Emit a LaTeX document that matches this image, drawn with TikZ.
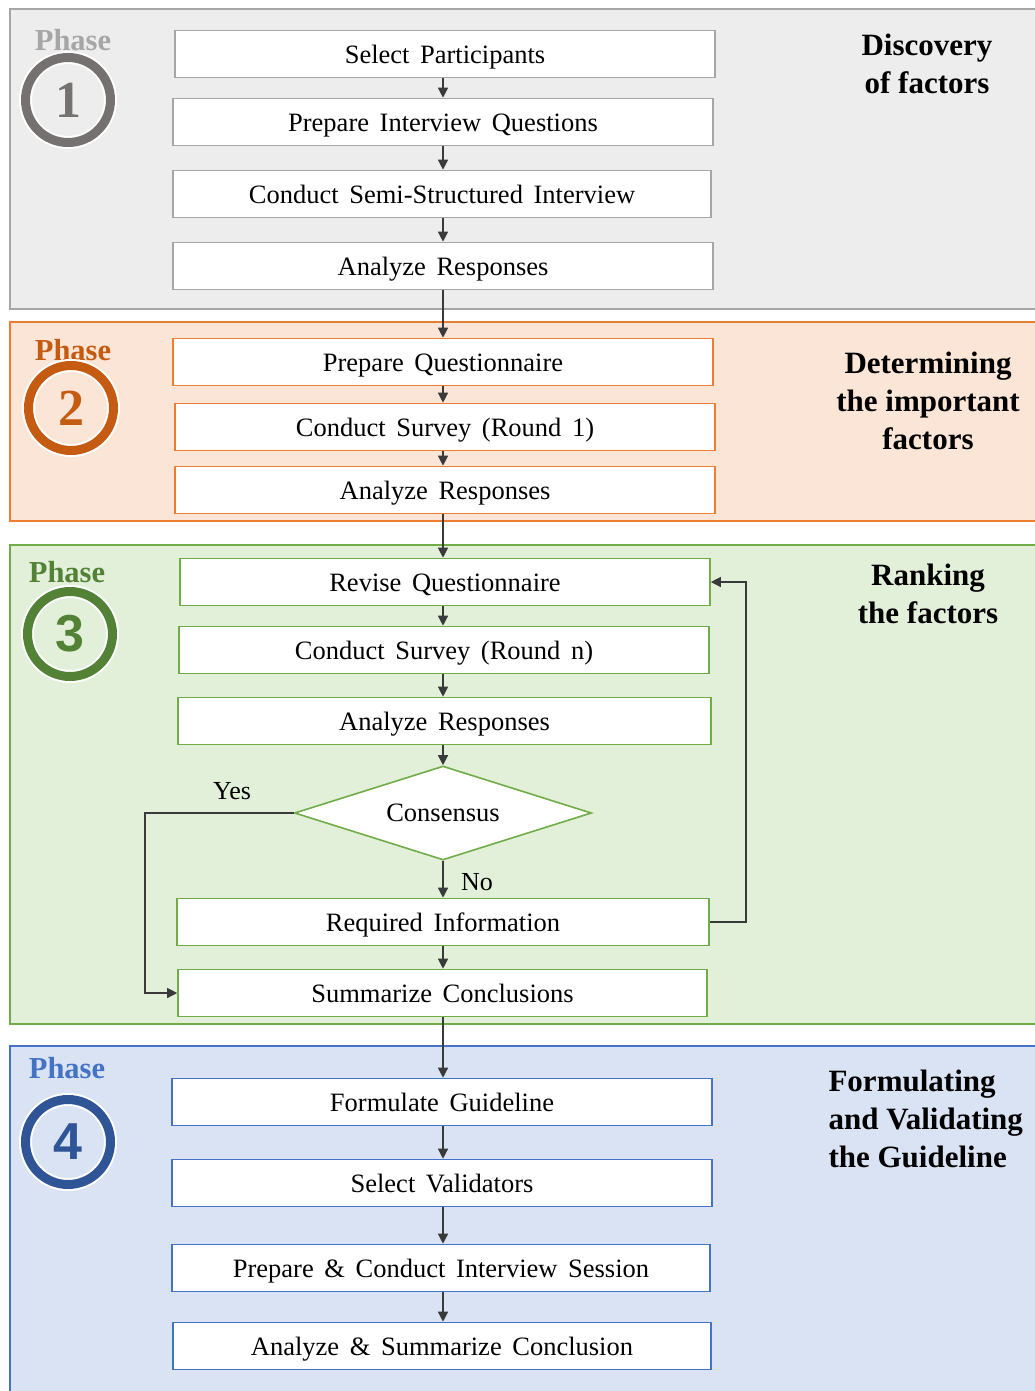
\documentclass[tikz,border=0pt]{standalone}
\usepackage{fontspec}
\setmainfont{Liberation Serif}
\newfontfamily\boxfam{Liberation Serif}[WordSpace=1.6]
\newfontfamily\numsans{Liberation Sans}
\usetikzlibrary{arrows.meta,shapes.geometric}

\definecolor{greyfill}{HTML}{EDEDED}
\definecolor{greyline}{HTML}{A6A6A6}
\definecolor{greyring}{HTML}{767171}
\definecolor{orfill}{HTML}{FBE5D6}
\definecolor{orline}{HTML}{ED7D31}
\definecolor{ordark}{HTML}{C55A11}
\definecolor{grfill}{HTML}{E2F0D9}
\definecolor{grline}{HTML}{70AD47}
\definecolor{grdark}{HTML}{538135}
\definecolor{blfill}{HTML}{DAE3F3}
\definecolor{blline}{HTML}{4472C4}
\definecolor{bldark}{HTML}{2F5597}
\definecolor{arrowgrey}{HTML}{3A3A3A}

\tikzset{
  panel/.style={line width=1.5pt},
  stepbox/.style={draw, fill=white, line width=1.6pt, minimum height=47pt,
    inner sep=0pt, text height=21pt, text depth=2pt,
    font=\boxfam\fontsize{26.5}{30}\selectfont},
  arr/.style={draw=arrowgrey, line width=1.3pt,
    -{Triangle[length=10pt,width=10pt]}},
  phaselabel/.style={font=\bfseries\fontsize{30.5}{34}\selectfont},
  ring/.style={circle, minimum size=85pt, inner sep=0pt,
    line width=9pt, font=\bfseries\fontsize{52}{52}\selectfont},
  halo/.style={circle, minimum size=85pt, draw=white, line width=13pt},
  heading/.style={font=\bfseries\fontsize{31}{38}\selectfont, align=center},
  answer/.style={font=\fontsize{26}{30}\selectfont}
}

\begin{document}
\begin{tikzpicture}[x=1pt, y=-1pt]
\useasboundingbox (0,0) rectangle (1035,1391);
\clip (0,0) rectangle (1035,1391);

% phase panels
\fill[white] (0,0) rectangle (1035,1391);
\draw[panel, draw=greyline, fill=greyfill] (10,9) rectangle (1045,309);
\draw[panel, draw=orline, fill=orfill] (10,322) rectangle (1045,521);
\draw[panel, draw=grline, fill=grfill] (10,545) rectangle (1045,1024);
\draw[panel, draw=blline, fill=blfill] (10,1046) rectangle (1045,1400);

% phase badges
\node[phaselabel, text=greyline] (ph1) at (73,40) {Phase};
\node[halo] at (68,100) {};
\node[ring, draw=greyring, text=greyring] (c1) at (68,100) {1};
\node[phaselabel, text=ordark] (ph2) at (73,350) {Phase};
\node[halo] at (71,408) {};
\node[ring, draw=ordark, text=ordark] (c2) at (71,408) {2};
\node[phaselabel, text=grdark] (ph3) at (67,572) {Phase};
\node[halo] at (70,634) {};
\node[ring, draw=grdark, text=grdark, font=\numsans\bfseries\fontsize{52}{52}\selectfont] (c3) at (70,634) {3};
\node[phaselabel, text=blline] (ph4) at (67,1068) {Phase};
\node[halo] at (68,1142) {};
\node[ring, draw=bldark, text=bldark, font=\numsans\bfseries\fontsize{52}{52}\selectfont] (c4) at (68,1142) {4};

% phase titles
\node[heading] (t1) at (927,64) {Discovery\\of factors};
\node[heading] (t2) at (928,401) {Determining\\the important\\factors};
\node[heading] (t3) at (928,594) {Ranking\\the factors};
\node[heading, align=left, anchor=west] (t4) at (825,1119) {Formulating\\and Validating\\the Guideline};

% phase 1 steps
\node[stepbox, draw=greyline, minimum width=540pt] (a1) at (445,54) {Select Participants};
\node[stepbox, draw=greyline, minimum width=540pt] (a2) at (443,122) {Prepare Interview Questions};
\node[stepbox, draw=greyline, minimum width=538pt] (a3) at (442,194) {Conduct Semi-Structured Interview};
\node[stepbox, draw=greyline, minimum width=540pt] (a4) at (443,266) {Analyze Responses};

% phase 2 steps
\node[stepbox, draw=orline, minimum width=540pt] (b1) at (443,362) {Prepare Questionnaire};
\node[stepbox, draw=orline, minimum width=540pt] (b2) at (445,427) {Conduct Survey (Round 1)};
\node[stepbox, draw=orline, minimum width=540pt] (b3) at (445,490) {Analyze Responses};

% phase 3 steps
\node[stepbox, draw=grline, minimum width=530pt] (g1) at (445,582) {Revise Questionnaire};
\node[stepbox, draw=grline, minimum width=530pt] (g2) at (444,650) {Conduct Survey (Round n)};
\node[stepbox, draw=grline, minimum width=533pt] (g3) at (444.5,721) {Analyze Responses};
\node[draw=grline, fill=white, line width=1.6pt, diamond, aspect=3.16,
      minimum width=297pt, minimum height=94pt, inner sep=0pt,
      font=\boxfam\fontsize{26.5}{30}\selectfont] (g4) at (443,813) {Consensus};
\node[stepbox, draw=grline, minimum width=532pt] (g5) at (443,922) {Required Information};
\node[stepbox, draw=grline, minimum width=529pt] (g6) at (442.5,993) {Summarize Conclusions};

% phase 4 steps
\node[stepbox, draw=blline, minimum width=540pt] (d1) at (442,1102) {Formulate Guideline};
\node[stepbox, draw=blline, minimum width=540pt] (d2) at (442,1183) {Select Validators};
\node[stepbox, draw=blline, minimum width=538pt] (d3) at (441,1268) {Prepare \& Conduct Interview Session};
\node[stepbox, draw=blline, minimum width=538pt] (d4) at (442,1346) {Analyze \& Summarize Conclusion};

% flow
\coordinate (ax) at (443,0);
\coordinate (loopx) at (746,0);
\coordinate (yesx) at (145,0);
\foreach \u/\v in {a1/a2, a2/a3, a3/a4, a4/b1, b1/b2, b2/b3, b3/g1, g1/g2, g2/g3,
                   g3/g4, g4/g5, g5/g6, g6/d1, d1/d2, d2/d3, d3/d4}
  \draw[arr] (\u.south -| ax) -- (\v.north -| ax);

\draw[arr] (g5.east) -- (g5.east -| loopx) -- (g1.east -| loopx) -- (g1.east);
\draw[arr] (g4.west) -- (g4.west -| yesx) -- (g6.west -| yesx) -- (g6.west);

\node[answer] (yes) at (232,791) {Yes};
\node[answer] (no) at (477,882) {No};
\end{tikzpicture}
\end{document}
